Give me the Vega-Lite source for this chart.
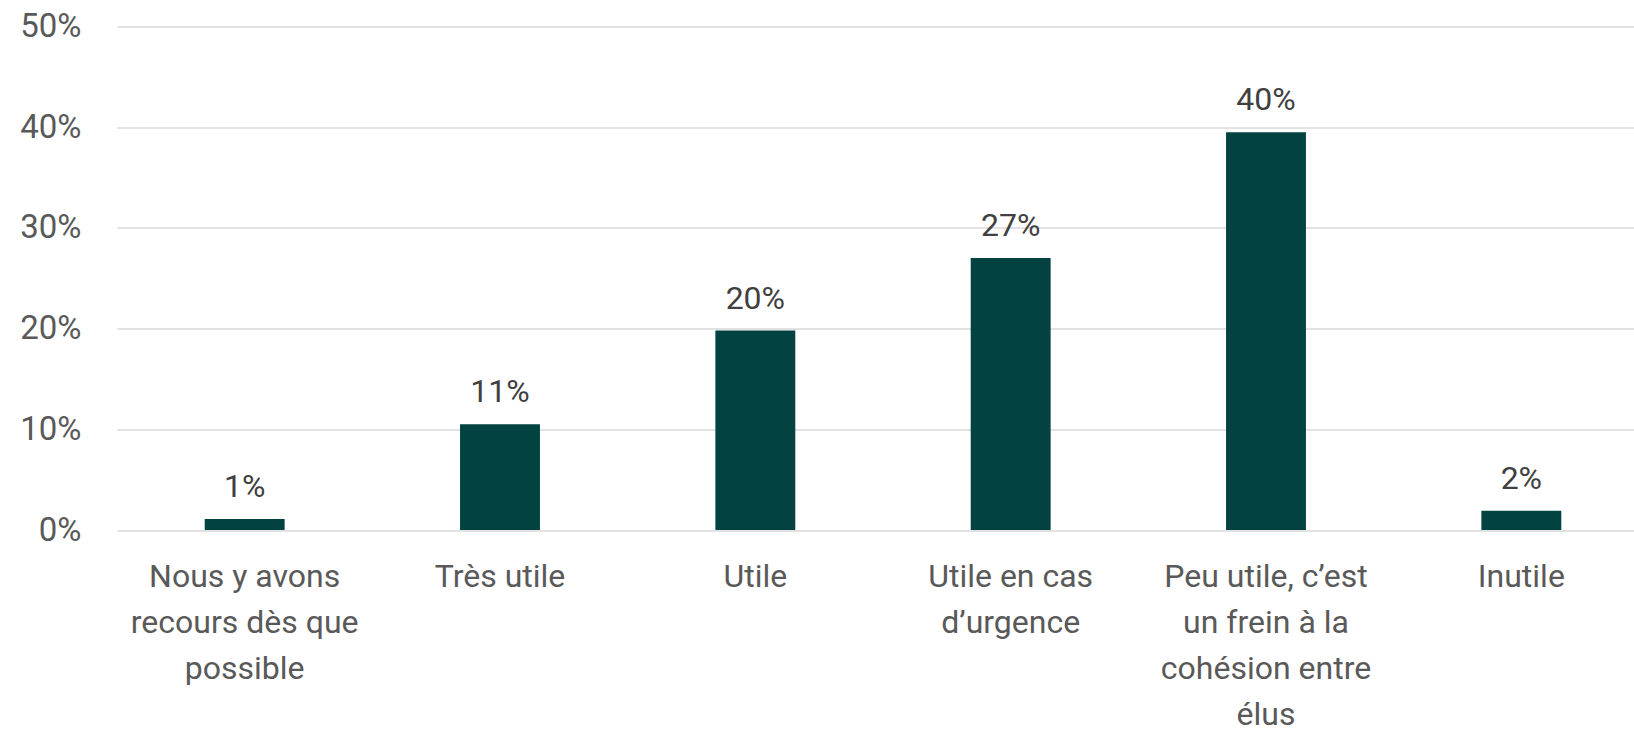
{
  "$schema": "https://vega.github.io/schema/vega-lite/v6.json",
  "autosize": "none",
  "width": 1532,
  "height": 503.5,
  "padding": {"left": 117, "top": 26.5, "right": 0, "bottom": 199},
  "background": "white",
  "data": {
    "values": [
      {"category": "Nous y avons|recours dès que|possible", "value": 1.1, "label": "1%"},
      {"category": "Très utile", "value": 10.5, "label": "11%"},
      {"category": "Utile", "value": 19.8, "label": "20%"},
      {"category": "Utile en cas|d’urgence", "value": 27.0, "label": "27%"},
      {"category": "Peu utile, c’est|un frein à la|cohésion entre|élus", "value": 39.5, "label": "40%"},
      {"category": "Inutile", "value": 1.9, "label": "2%"}
    ]
  },
  "encoding": {
    "x": {
      "field": "category",
      "type": "nominal",
      "sort": null,
      "scale": {"paddingInner": 0.687, "paddingOuter": 0.3435},
      "axis": {
        "title": null,
        "labelAngle": 0,
        "labelExpr": "split(datum.label, '|')",
        "labelFont": "Roboto",
        "labelFontSize": 32,
        "labelColor": "#595959",
        "labelLineHeight": 46,
        "labelPadding": 31,
        "labelBaseline": "top",
        "labelLimit": 0,
        "labelOverlap": false,
        "ticks": false,
        "domain": false,
        "grid": false
      }
    },
    "y": {
      "field": "value",
      "type": "quantitative",
      "scale": {"domain": [0, 50], "nice": false},
      "axis": {
        "title": null,
        "values": [0, 10, 20, 30, 40, 50],
        "labelExpr": "datum.value + '%'",
        "labelFont": "Roboto",
        "labelFontSize": 33,
        "labelColor": "#595959",
        "labelPadding": 36,
        "ticks": false,
        "domain": false,
        "grid": true,
        "gridColor": "#d9d9d9",
        "gridWidth": 1.5
      }
    }
  },
  "layer": [
    {"mark": {"type": "bar", "color": "#024341"}},
    {
      "mark": {"type": "text", "font": "Roboto", "fontSize": 32, "color": "#404040", "baseline": "alphabetic", "dy": -22},
      "encoding": {"text": {"field": "label"}}
    }
  ],
  "config": {"view": {"stroke": null}}
}
